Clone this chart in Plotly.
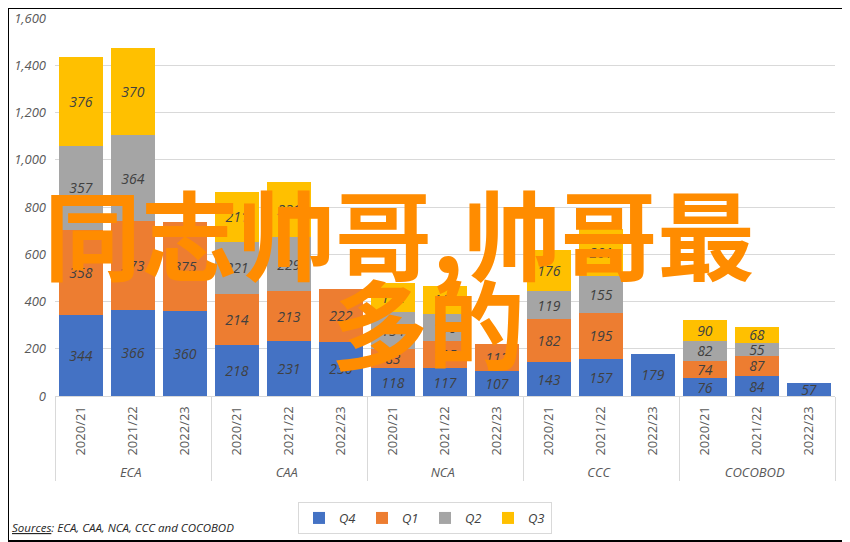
import plotly.graph_objects as go

# categories
agencies = ["ECA", "CAA", "NCA", "CCC", "COCOBOD"]
years = ["2020/21", "2021/22", "2022/23"]

# values per agency, per year (2022/23 only has Q4 and Q1)
q4 = [344, 366, 360, 218, 231, 230, 118, 117, 107, 143, 157, 179, 76, 84, 57]
q1 = [358, 373, 375, 214, 213, 222, 83, 115, 112, 182, 195, None, 74, 87, None]
q2 = [357, 364, None, 221, 229, None, 154, 116, None, 119, 155, None, 82, 55, None]
q3 = [376, 370, None, 211, 231, None, 122, 119, None, 176, 201, None, 90, 68, None]

outer = ["<i>" + a + "</i>" for a in agencies for _ in years]
inner = [y for _ in agencies for y in years]

series = [("Q4", q4, "#4472C4"), ("Q1", q1, "#ED7D31"),
          ("Q2", q2, "#A5A5A5"), ("Q3", q3, "#FFC000")]

# page body adds 8px margin, so the figure is a little smaller
W, H = 842, 534
L, R, T, B = 47, 15, 10, 146
pw, ph = W - L - R, H - T - B


def px(x):
    # window pixel -> paper x
    return (x - 8 - L) / pw


def py(y):
    # window pixel -> paper y
    return (H - B - (y - 8)) / ph


fig = go.Figure()
for name, vals, col in series:
    fig.add_trace(go.Bar(
        x=[outer, inner], y=vals, name=name,
        marker=dict(color=col, line=dict(width=0)),
        texttemplate="%{y}",
        textposition="inside", insidetextanchor="middle",
        constraintext="none", textangle=0,
        textfont=dict(family="Open Sans", size=14, color="#404040", style="italic"),
    ))

fig.update_layout(
    width=W, height=H,
    barmode="stack", bargap=0.14,
    plot_bgcolor="white", paper_bgcolor="white",
    margin=dict(l=L, r=R, t=T, b=B, autoexpand=False),
    font=dict(family="Open Sans", size=12, color="#595959"),
    legend=dict(orientation="h", x=px(425), xanchor="center",
                y=py(518), yanchor="middle",
                bordercolor="#D9D9D9", borderwidth=1,
                font=dict(size=13, color="#404040", style="italic"),
                itemwidth=30, entrywidth=18, traceorder="normal"),
    showlegend=True,
)
fig.update_xaxes(
    type="multicategory", tickangle=-90, automargin=False,
    showdividers=True, dividercolor="#D9D9D9", dividerwidth=1,
    showline=True, linecolor="#D9D9D9", ticklabelstandoff=4,
    tickfont=dict(size=13, color="#595959"),
)
fig.update_yaxes(
    range=[0, 1600], dtick=200, tickformat=",", automargin=False,
    showgrid=True, gridcolor="#D9D9D9", zeroline=False,
    tickfont=dict(size=13, color="#595959", style="italic"),
    ticklabelstandoff=8, ticklabeloverflow="allow",
)

fig.add_annotation(
    xref="paper", yref="paper", x=px(10), y=py(527),
    xanchor="left", yanchor="middle", showarrow=False,
    text="<u>Sources</u>: ECA, CAA, NCA, CCC and COCOBOD",
    font=dict(size=11.5, color="#262626", style="italic"),
)

# overlay text
wm = dict(family="Noto Sans CJK SC", size=97, color="#FF8C00", weight=700)
fig.add_annotation(
    xref="paper", yref="paper", x=px(399), y=py(230),
    xanchor="center", yanchor="middle", showarrow=False,
    text="同志帅哥,帅哥最", font=wm,
)
fig.add_annotation(
    xref="paper", yref="paper", x=px(428), y=py(319),
    xanchor="center", yanchor="middle", showarrow=False,
    text="多的", font=wm,
)

# outer frame
fig.add_shape(type="rect", xref="paper", yref="paper",
              x0=-L / pw, x1=1 + (R - 1) / pw,
              y0=-(B - 1) / ph, y1=1 + T / ph,
              line=dict(color="black", width=2))

fig.write_html("out.html")
